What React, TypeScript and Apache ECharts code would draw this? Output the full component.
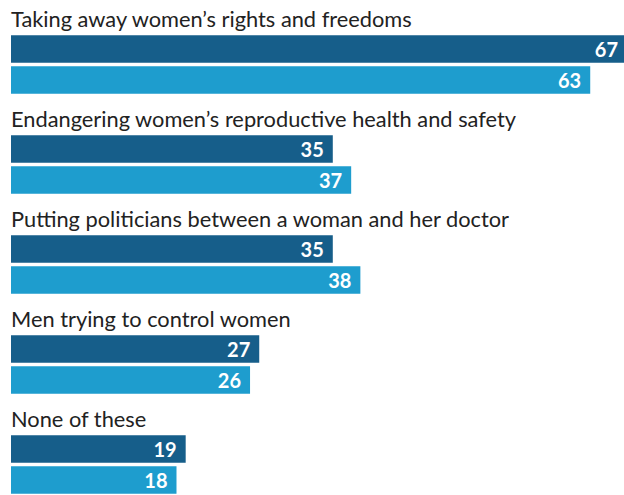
import React, { useEffect, useRef } from "react";
import * as echarts from "echarts";

const categories = [
  "Taking away women’s rights and freedoms",
  "Endangering women’s reproductive health and safety",
  "Putting politicians between a woman and her doctor",
  "Men trying to control women",
  "None of these",
];
const darkValues = [67, 35, 35, 27, 19];
const lightValues = [63, 37, 38, 26, 18];

export default function App() {
  const ref = useRef<HTMLDivElement>(null);
  useEffect(() => {
    document.body.style.margin = "0";
    const chart = echarts.init(ref.current!, undefined, { renderer: "svg" });
    const valueLabel = {
      show: true,
      position: "insideRight",
      distance: 9,
      color: "#ffffff",
      fontFamily: "Lato",
      fontWeight: "bold",
      fontSize: 20,
    };
    chart.setOption({
      animation: false,
      grid: {
        left: 11,
        top: 14.5,
        width: 616,
        height: 500,
        containLabel: false,
        outerBoundsMode: "none",
      },
      xAxis: {
        type: "value",
        min: 0,
        max: 67,
        show: false,
      },
      yAxis: {
        type: "category",
        data: categories,
        inverse: true,
        axisLine: { show: false },
        axisTick: { show: false },
        splitLine: { show: false },
        axisLabel: {
          inside: true,
          interval: 0,
          showMinLabel: true,
          showMaxLabel: true,
          hideOverlap: false,
          margin: 0,
          align: "left",
          verticalAlign: "bottom",
          lineHeight: 93,
          color: "#222222",
          fontFamily: "Lato",
          fontSize: 21.8,
        },
      },
      series: [
        {
          type: "bar",
          data: darkValues,
          barWidth: 27.5,
          barGap: "13%",
          itemStyle: { color: "#165E8A" },
          label: valueLabel,
        },
        {
          type: "bar",
          data: lightValues,
          barWidth: 27.5,
          barGap: "13%",
          itemStyle: { color: "#1E9DCE" },
          label: valueLabel,
        },
      ],
    });
    return () => chart.dispose();
  }, []);
  return <div ref={ref} style={{ width: 624, height: 495 }} />;
}
